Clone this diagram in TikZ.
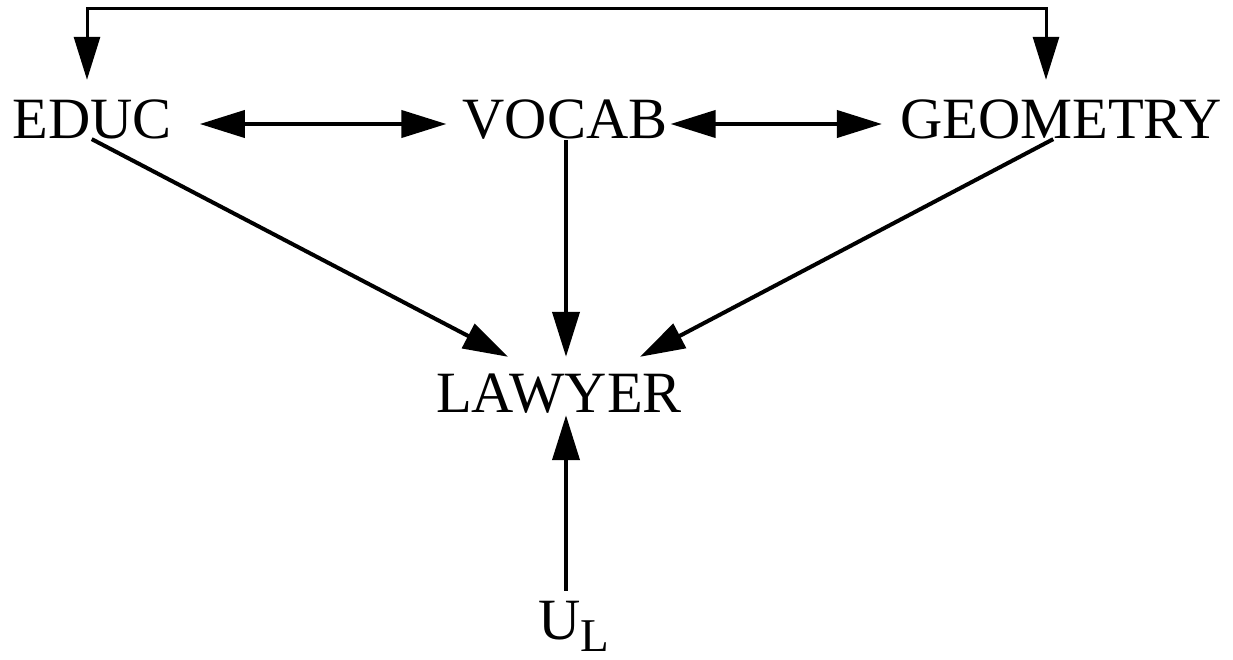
\documentclass[tikz,border=0pt]{standalone}
\usepackage{fontspec}
\setmainfont{Liberation Serif}
\usetikzlibrary{arrows.meta}
\tikzset{
  var/.style={anchor=base, inner sep=0pt, text height=28pt, text depth=0pt,
    font=\fontsize{58.5}{60}\selectfont},
  arr/.style={line width=4pt, -{Triangle[length=45pt,width=27pt]}},
  dbl/.style={line width=4pt, {Triangle[length=45pt,width=27pt]}-{Triangle[length=45pt,width=27pt]}},
  topline/.style={line width=3pt, {Triangle[length=43pt,width=26pt]}-{Triangle[length=43pt,width=26pt]}}
}
\begin{document}
\begin{tikzpicture}[x=1pt,y=-1pt]
\useasboundingbox (0,0) rectangle (1233,659);

% variables
\node[var] (educ)   at (92,138)   {EDUC};
\node[var] (vocab)  at (565,138)  {VOCAB};
\node[var] (geom)   at (1061,138) {GEOMETRY};
\node[var] (lawyer) at (559,412)  {LAWYER};
\node[var, text height=36pt] (ul) at (574,639)
  {U\raisebox{-12pt}{\fontsize{47}{50}\selectfont L}};
\coordinate (top) at (565,8);

% correlation between EDUC and GEOMETRY over the top
\draw[topline, shorten <=30pt, shorten >=30pt]
  ([xshift=-5pt]educ.north) |- (top) -| ([xshift=-15pt]geom.north);

% correlations in the top row
\draw[dbl, shorten <=28pt, shorten >=16pt] (educ.east) -- (vocab.west);
\draw[dbl, shorten <=3pt, shorten >=18pt] (vocab.east) -- (geom.west);

% effects on LAWYER
\draw[arr, shorten <=2pt] ([xshift=-2pt]educ.south) -- ([shift={(-51pt,27pt)}]lawyer.north);
\draw[arr, shorten <=2pt, shorten >=27pt] ([xshift=1pt]vocab.south) -- ([xshift=1pt]vocab.south |- lawyer.north);
\draw[arr, shorten <=2pt] ([xshift=-6pt]geom.south) -- ([shift={(81pt,27pt)}]lawyer.north);
\draw[arr, shorten <=12pt, shorten >=3pt] ([xshift=-8pt]ul.north) -- ([xshift=-8pt]ul.north |- lawyer.south);
\end{tikzpicture}
\end{document}
